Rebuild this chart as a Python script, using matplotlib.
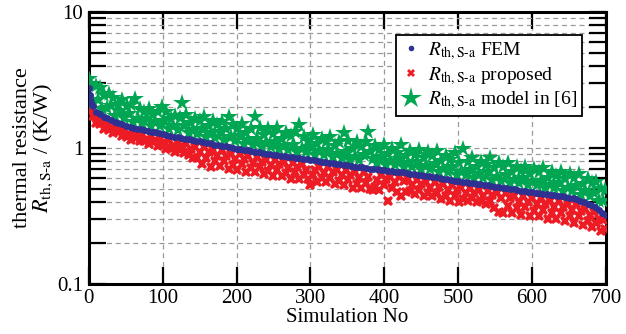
import matplotlib
matplotlib.use('Agg')
import matplotlib.pyplot as plt
from matplotlib.lines import Line2D
from matplotlib.ticker import LogLocator, NullFormatter
import numpy as np

plt.rcParams['font.family'] = ['Liberation Serif', 'DejaVu Serif']
plt.rcParams['mathtext.fontset'] = 'stix'

# FEM result (sorted, descending)
sim_fem = [0, 1, 2, 3, 4] + list(range(5, 701, 5))
r_fem = [2.75, 2.45, 2.28, 2.17, 2.08,
         2.02, 1.85, 1.77, 1.70, 1.65, 1.60, 1.56, 1.53, 1.49, 1.46,
         1.43, 1.41, 1.39, 1.37, 1.35, 1.33, 1.32, 1.30, 1.28, 1.27,
         1.25, 1.23, 1.21, 1.20, 1.18, 1.17, 1.16, 1.14, 1.13, 1.12,
         1.10, 1.09, 1.08, 1.06, 1.05, 1.04, 1.03, 1.02, 1.00, 0.99,
         0.98, 0.97, 0.96, 0.95, 0.94, 0.93, 0.92, 0.91, 0.90, 0.895,
         0.89, 0.88, 0.87, 0.86, 0.855, 0.85, 0.84, 0.835, 0.825, 0.82,
         0.81, 0.80, 0.795, 0.785, 0.78, 0.775, 0.765, 0.76, 0.75, 0.745,
         0.735, 0.73, 0.725, 0.72, 0.71, 0.705, 0.70, 0.695, 0.69, 0.685,
         0.68, 0.675, 0.67, 0.665, 0.66, 0.655, 0.645, 0.64, 0.635, 0.63,
         0.625, 0.62, 0.615, 0.61, 0.60, 0.595, 0.59, 0.585, 0.575, 0.57,
         0.565, 0.56, 0.555, 0.55, 0.545, 0.54, 0.535, 0.53, 0.525, 0.52,
         0.515, 0.51, 0.505, 0.50, 0.495, 0.49, 0.485, 0.48, 0.477, 0.473,
         0.47, 0.465, 0.46, 0.455, 0.45, 0.447, 0.443, 0.44, 0.435, 0.43,
         0.425, 0.42, 0.41, 0.40, 0.39, 0.38, 0.365, 0.35, 0.335, 0.32]

# proposed model and model in [6], every 3rd simulation
sim_model = list(range(0, 700, 3))
r_proposed = [1.98, 1.90, 1.72, 1.53, 1.70, 1.49, 1.54, 1.38, 1.53, 1.35,
              1.40, 1.29, 1.45, 1.30, 1.35, 1.22, 1.35, 1.21, 1.26, 1.14,
              1.32, 1.18, 1.23, 1.12, 1.25, 1.12, 1.17, 1.07, 1.23, 1.11,
              1.15, 1.03, 1.18, 1.05, 1.10, 0.99, 1.14, 0.99, 1.04, 0.94,
              1.08, 0.97, 1.03, 0.92, 1.07, 0.89, 0.99, 0.84, 1.02, 0.84,
              0.93, 0.76, 1.01, 0.85, 0.93, 0.73, 0.97, 0.80, 0.88, 0.74,
              0.96, 0.80, 0.88, 0.70, 0.91, 0.75, 0.83, 0.69, 0.90, 0.76,
              0.83, 0.66, 0.87, 0.71, 0.78, 0.67, 0.86, 0.72, 0.79, 0.64,
              0.82, 0.68, 0.75, 0.62, 0.82, 0.69, 0.76, 0.62, 0.79, 0.65,
              0.71, 0.59, 0.78, 0.66, 0.73, 0.59, 0.76, 0.63, 0.69, 0.59,
              0.535, 0.63, 0.69, 0.56, 0.72, 0.60, 0.65, 0.56, 0.72, 0.60,
              0.67, 0.54, 0.69, 0.57, 0.63, 0.535, 0.69, 0.58, 0.63, 0.505,
              0.66, 0.545, 0.60, 0.51, 0.66, 0.55, 0.61, 0.495, 0.49, 0.52,
              0.58, 0.49, 0.63, 0.53, 0.59, 0.41, 0.61, 0.505, 0.56, 0.475,
              0.61, 0.445, 0.57, 0.475, 0.59, 0.485, 0.53, 0.455, 0.585, 0.49,
              0.54, 0.44, 0.56, 0.465, 0.51, 0.44, 0.56, 0.47, 0.52, 0.42,
              0.54, 0.445, 0.49, 0.405, 0.535, 0.445, 0.49, 0.40, 0.51, 0.42,
              0.465, 0.405, 0.51, 0.43, 0.47, 0.40, 0.49, 0.41, 0.445, 0.39,
              0.485, 0.41, 0.45, 0.36, 0.47, 0.34, 0.425, 0.33, 0.465, 0.375,
              0.43, 0.33, 0.445, 0.36, 0.40, 0.32, 0.44, 0.365, 0.40, 0.315,
              0.43, 0.345, 0.39, 0.315, 0.425, 0.35, 0.39, 0.30, 0.41, 0.33,
              0.37, 0.30, 0.405, 0.335, 0.37, 0.29, 0.39, 0.315, 0.35, 0.28,
              0.385, 0.315, 0.345, 0.27, 0.355, 0.29, 0.32, 0.26, 0.34, 0.28,
              0.30, 0.245, 0.295, 0.255]
r_model6 = [3.20, 2.95, 2.18, 2.86, 2.27, 2.75, 1.95, 2.45, 1.97, 2.49,
            2.03, 2.32, 1.72, 2.08, 1.86, 2.24, 1.66, 2.04, 1.79, 2.07,
            1.56, 2.28, 1.64, 1.95, 1.53, 1.83, 1.64, 1.93, 1.46, 1.75,
            1.54, 1.84, 1.44, 2.00, 1.57, 1.85, 1.37, 1.64, 1.44, 1.72,
            1.35, 1.67, 2.14, 1.46, 1.75, 1.28, 1.53, 1.35, 1.64, 1.27,
            1.57, 1.38, 1.68, 1.21, 1.45, 1.28, 1.58, 1.19, 1.48, 1.31,
            1.56, 1.15, 1.39, 1.70, 1.20, 1.48, 1.12, 1.39, 1.22, 1.49,
            1.07, 1.29, 1.14, 1.38, 1.06, 1.70, 1.17, 1.40, 1.02, 1.24,
            1.08, 1.38, 1.01, 1.26, 1.11, 1.40, 0.98, 1.17, 1.03, 1.28,
            0.97, 1.22, 1.06, 1.32, 0.94, 1.47, 0.99, 1.21, 0.93, 1.13,
            1.02, 1.24, 0.895, 1.07, 0.945, 1.17, 0.89, 1.10, 0.97, 1.21,
            0.86, 1.03, 0.905, 1.10, 0.85, 1.28, 0.93, 1.12, 0.82, 0.99,
            0.865, 1.11, 0.815, 1.01, 0.89, 1.10, 1.32, 0.94, 0.83, 1.03,
            0.78, 0.97, 0.86, 1.05, 0.755, 0.91, 0.80, 0.98, 0.755, 0.92,
            0.83, 1.05, 0.73, 0.875, 0.77, 0.95, 0.725, 0.895, 0.79, 0.97,
            0.70, 0.85, 0.74, 0.93, 0.695, 0.88, 0.76, 0.945, 0.665, 0.80,
            0.705, 0.875, 0.665, 0.82, 0.725, 0.92, 0.635, 0.77, 0.67, 0.98,
            0.63, 0.795, 0.69, 0.84, 0.605, 0.725, 0.64, 0.795, 0.605, 0.75,
            0.66, 0.85, 0.58, 0.71, 0.615, 0.775, 0.575, 0.725, 0.63, 0.78,
            0.555, 0.665, 0.585, 0.725, 0.55, 0.68, 0.60, 0.73, 0.53, 0.645,
            0.56, 0.705, 0.53, 0.665, 0.575, 0.715, 0.505, 0.605, 0.535, 0.665,
            0.505, 0.625, 0.55, 0.67, 0.485, 0.59, 0.51, 0.645, 0.48, 0.605,
            0.525, 0.645, 0.45, 0.545, 0.48, 0.595, 0.44, 0.55, 0.47, 0.56,
            0.41, 0.50, 0.41, 0.49]

c_fem = '#2E3192'
c_prop = '#ED1C24'
c_m6 = '#00A651'
rlab = r'$R_{\mathrm{th,S' + '\u2010' + r'a}}$'

fig = plt.figure(figsize=(6.26, 3.34), dpi=100)
ax = fig.add_axes([0.142, 0.150, 0.826, 0.814])

ax.plot(sim_model, r_proposed, 'X', color=c_prop, ms=7.5, mew=0, zorder=3)
ax.plot(sim_model, r_model6, '*', color=c_m6, ms=13, mew=0, zorder=4)
ax.plot(sim_fem, r_fem, 'o', color=c_fem, ms=5, mew=0, zorder=5)

ax.set_yscale('log')
ax.set_xlim(0, 700)
ax.set_ylim(0.1, 10)
ax.set_xticks(range(0, 701, 100))
ax.set_yticks([0.1, 1, 10], labels=['0.1', '1', '10'])
ax.yaxis.set_minor_locator(LogLocator(base=10, subs=np.arange(2, 10)))
ax.yaxis.set_minor_formatter(NullFormatter())

ax.set_axisbelow(True)
ax.grid(which='major', axis='x', color='#9a9a9a', lw=0.9, ls=(0, (4, 3)))
ax.grid(which='both', axis='y', color='#9a9a9a', lw=0.9, ls=(0, (4, 3)))

for s in ax.spines.values():
    s.set_linewidth(2.2)
ax.tick_params(which='both', direction='in', top=True, right=True,
               length=12, width=1.6, labelsize=15, pad=4)

ax.set_xlabel('Simulation No', fontsize=15, labelpad=0)
ax.set_ylabel('thermal resistance\n' + rlab + ' / (K/W)', fontsize=16,
              labelpad=2, linespacing=0.95)

handles = [
    Line2D([], [], ls='none', marker='o', color=c_fem, ms=4, mew=0),
    Line2D([], [], ls='none', marker='X', color=c_prop, ms=5.5, mew=0),
    Line2D([], [], ls='none', marker='*', color=c_m6, ms=16, mew=0),
]
labels = [rlab + ' FEM', rlab + ' proposed', rlab + ' model in [6]']
leg = ax.legend(handles, labels, loc='upper right',
                bbox_to_anchor=(0.954, 0.915), borderaxespad=0,
                fontsize=14, frameon=True, fancybox=False, framealpha=1,
                edgecolor='black', handlelength=1.0, handletextpad=0.4,
                labelspacing=0.15, borderpad=0.25)
leg.get_frame().set_linewidth(1.3)

fig.savefig('out.png', dpi=100)
